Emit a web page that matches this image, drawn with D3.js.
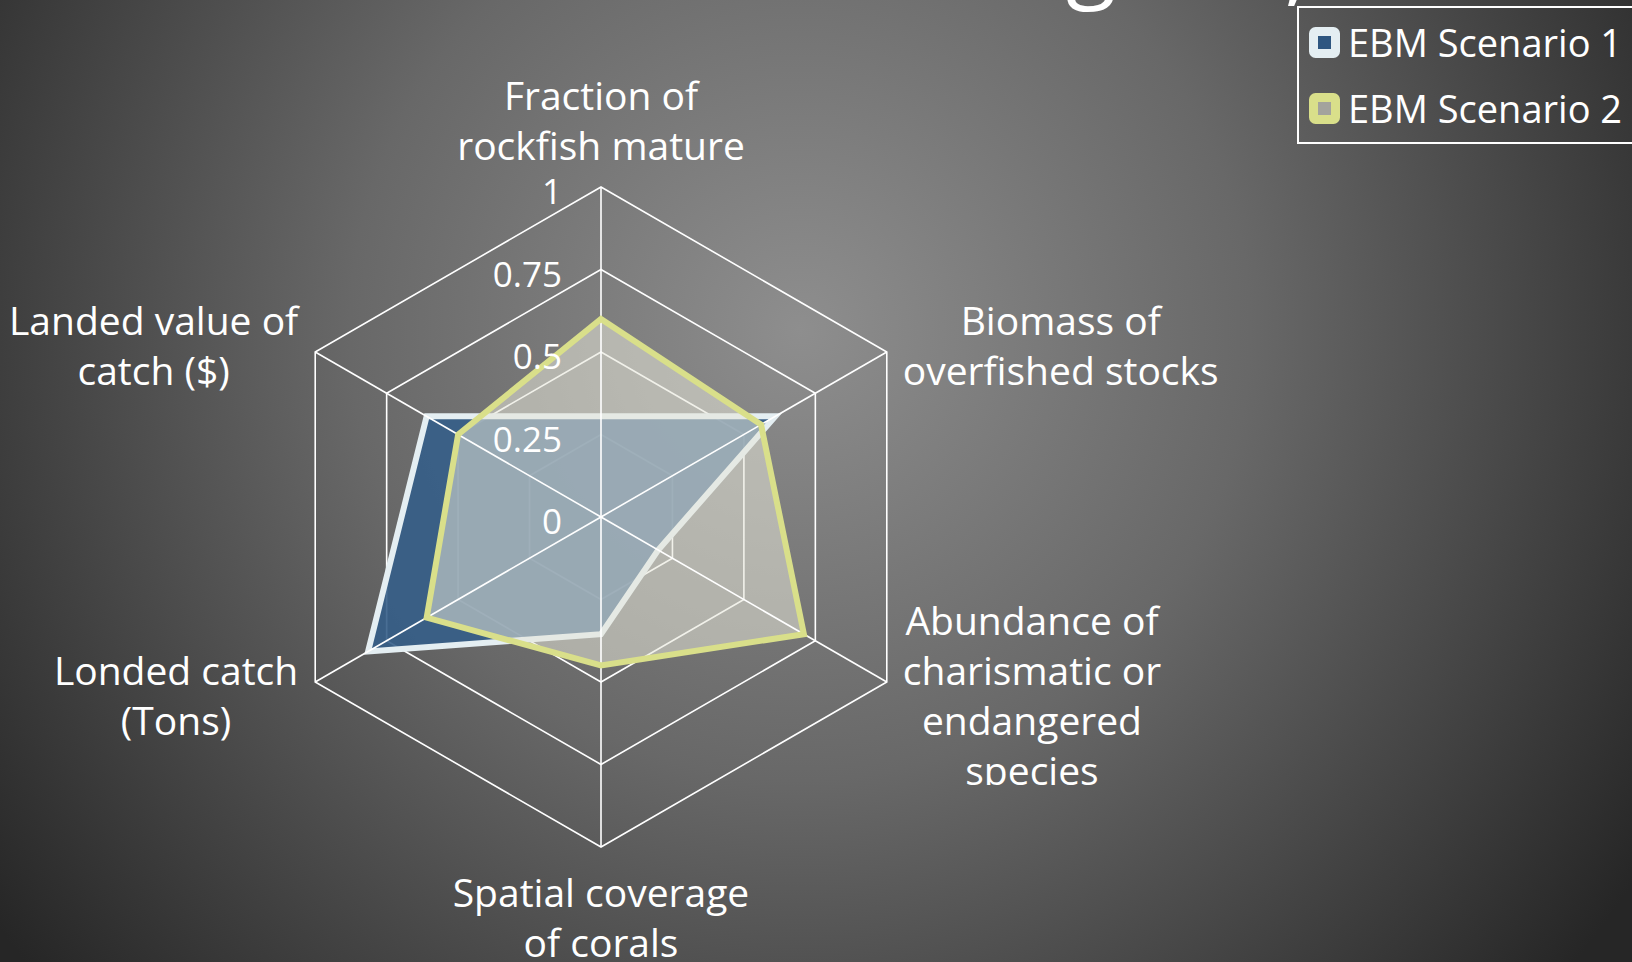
<!DOCTYPE html>
<html>
<head>
<meta charset="utf-8">
<script src="https://cdn.jsdelivr.net/npm/d3@7"></script>
<style>
  html, body { margin: 0; padding: 0; background: #2a2a2a; }
  svg { display: block; }
  text { font-family: 'Open Sans', 'Noto Sans', sans-serif; fill: #ffffff; }
</style>
</head>
<body>
<div id="chart"></div>
<script>
// chart values
var axisLabels = [
  ['Fraction of', 'rockfish mature'],
  ['Biomass of', 'overfished stocks'],
  ['Abundance of', 'charismatic or', 'endangered', 'species'],
  ['Spatial coverage', 'of corals'],
  ['Londed catch', '(Tons)'],
  ['Landed value of', 'catch ($)']
];
var seriesNames = ['EBM Scenario 1', 'EBM Scenario 2'];
var scenario1 = [0.305, 0.61, 0.2, 0.355, 0.815, 0.61];
var scenario2 = [0.6, 0.56, 0.71, 0.45, 0.61, 0.5];
var tickValues = [0, 0.25, 0.5, 0.75, 1];
var tickLabels = ['0', '0.25', '0.5', '0.75', '1'];

(function(d3) {
  'use strict';
  var width = 1632;
  var height = 962;
  var cx = 601;
  var cy = 517;
  var radius = 330;
  var lineHeight = 50;
  var n = axisLabels.length;
  var step = 2 * Math.PI / n;

  var r = d3.scaleLinear().domain([0, 1]).range([0, radius]);

  var svg = d3.select('#chart')
    .append('svg')
    .attr('width', width)
    .attr('height', height);

  var defs = svg.append('defs');
  var grad = defs.append('radialGradient')
    .attr('id', 'bg')
    .attr('gradientUnits', 'userSpaceOnUse')
    .attr('cx', 800).attr('cy', 330).attr('r', 1000);
  grad.append('stop').attr('offset', 0).attr('stop-color', '#8e8e8e');
  grad.append('stop').attr('offset', 0.45).attr('stop-color', '#686868');
  grad.append('stop').attr('offset', 1).attr('stop-color', '#262626');

  // text box of the long label is cut at the bottom (coords of the chart group)
  defs.append('clipPath').attr('id', 'clipLabel')
    .append('rect')
    .attr('x', -cx).attr('y', -cy)
    .attr('width', width).attr('height', 785);

  svg.append('rect')
    .attr('width', width)
    .attr('height', height)
    .attr('fill', 'url(#bg)');

  // bits of the slide title that poke in at the top
  svg.append('text')
    .attr('x', 1066).attr('y', -10)
    .style('font-size', '92px')
    .text('g');
  svg.append('text')
    .attr('x', 1284).attr('y', -7)
    .style('font-size', '100px')
    .text(',');

  var g = svg.append('g')
    .attr('transform', 'translate(' + cx + ',' + cy + ')');

  function angle(d, i) { return i * step; }
  function px(i, v) { return r(v) * Math.sin(i * step); }
  function py(i, v) { return -r(v) * Math.cos(i * step); }

  // rings
  g.selectAll('.ring')
    .data(tickValues.filter(function(t) { return t > 0; }))
    .enter()
    .append('path')
    .attr('class', 'ring')
    .attr('d', function(t) {
      return d3.lineRadial()
        .angle(angle)
        .radius(r(t))
        .curve(d3.curveLinearClosed)(axisLabels);
    })
    .attr('fill', 'none')
    .attr('stroke', '#ffffff')
    .attr('stroke-width', 1.6);

  var area = d3.lineRadial()
    .angle(angle)
    .radius(function(d) { return r(d); })
    .curve(d3.curveLinearClosed);

  // scenario 1
  g.append('path')
    .attr('d', area(scenario1))
    .attr('fill', '#355e88')
    .attr('fill-opacity', 0.9)
    .attr('stroke', '#e4eef2')
    .attr('stroke-width', 6)
    .attr('stroke-linejoin', 'miter');

  // scenario 2 fill
  g.append('path')
    .attr('d', area(scenario2))
    .attr('fill', '#e6e6d8')
    .attr('fill-opacity', 0.55)
    .attr('stroke', 'none');

  // spokes
  g.selectAll('.spoke')
    .data(axisLabels)
    .enter()
    .append('line')
    .attr('class', 'spoke')
    .attr('x1', 0).attr('y1', 0)
    .attr('x2', function(d, i) { return px(i, 1); })
    .attr('y2', function(d, i) { return py(i, 1); })
    .attr('stroke', '#ffffff')
    .attr('stroke-width', 1.6);

  // scenario 2 outline
  g.append('path')
    .attr('d', area(scenario2))
    .attr('fill', 'none')
    .attr('stroke', '#d9df8a')
    .attr('stroke-width', 6)
    .attr('stroke-linejoin', 'miter');

  // tick labels
  g.selectAll('.tick')
    .data(tickValues)
    .enter()
    .append('text')
    .attr('class', 'tick')
    .attr('x', -39)
    .attr('y', function(t) { return -r(t) + 8; })
    .attr('text-anchor', 'end')
    .attr('dominant-baseline', 'middle')
    .style('font-size', '35px')
    .text(function(t, i) { return tickLabels[i]; });

  // category labels
  var labels = g.selectAll('.label')
    .data(axisLabels)
    .enter()
    .append('text')
    .attr('class', 'label')
    .style('font-size', '39px')
    .attr('text-anchor', 'middle');

  labels.each(function(lines, i) {
    var t = d3.select(this);
    lines.forEach(function(s) {
      t.append('tspan').text(s);
    });
    var widths = [];
    t.selectAll('tspan').each(function() { widths.push(this.getComputedTextLength()); });
    var maxW = d3.max(widths);
    var vx = px(i, 1);
    var vy = py(i, 1);
    var s = Math.sin(i * step);
    var c = Math.cos(i * step);
    var x, y0;
    if (Math.abs(s) < 0.01) {
      x = vx;
      if (c > 0) {
        y0 = vy - 27 - (lines.length - 1) * lineHeight;
      } else {
        y0 = vy + 60;
      }
    } else {
      x = s > 0 ? vx + 16 + maxW / 2 : vx - 17 - maxW / 2;
      var mid = vy + (c > 0 ? 8 : 28);
      y0 = mid - (lines.length - 1) * lineHeight / 2;
    }
    t.selectAll('tspan')
      .attr('x', x)
      .attr('y', function(d, k) { return y0 + k * lineHeight; });
  });

  labels.filter(function(d, i) { return i === 2; })
    .attr('clip-path', 'url(#clipLabel)');

  // legend
  var legend = svg.append('g').attr('class', 'legend');
  legend.append('rect')
    .attr('x', 1298).attr('y', 7)
    .attr('width', 340).attr('height', 136)
    .attr('fill', 'none')
    .attr('stroke', '#ffffff')
    .attr('stroke-width', 2);
  var swatchFill = ['#2e5680', '#a3a39d'];
  var swatchStroke = ['#e4eef2', '#d9df8a'];
  var item = legend.selectAll('.item')
    .data(seriesNames)
    .enter()
    .append('g')
    .attr('class', 'item')
    .attr('transform', function(d, i) { return 'translate(1309,' + (27 + i * 66) + ')'; });
  item.append('rect')
    .attr('x', 4.5).attr('y', 4.5)
    .attr('width', 22).attr('height', 22)
    .attr('rx', 2)
    .attr('fill', function(d, i) { return swatchFill[i]; })
    .attr('stroke', function(d, i) { return swatchStroke[i]; })
    .attr('stroke-width', 9);
  item.append('text')
    .attr('x', 39)
    .attr('y', 30)
    .style('font-size', '38px')
    .text(function(d) { return d; });
})(window.d3);
</script>
</body>
</html>
